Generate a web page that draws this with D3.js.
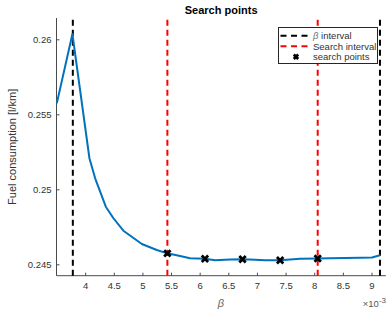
<!DOCTYPE html>
<html>
<head>
<meta charset="utf-8">
<script src="https://cdn.jsdelivr.net/npm/d3@7"></script>
<style>
  html, body { margin: 0; padding: 0; background: #fff; }
  svg { display: block; font-family: "Liberation Sans", Arial, Helvetica, sans-serif; }
</style>
</head>
<body>
<svg id="chart" width="387" height="329"></svg>
<script>
// beta values are in units of 1e-3
const beta = [3.505, 3.778, 4.075, 4.175, 4.361, 4.494, 4.668, 4.990, 5.251, 5.436,
  5.658, 5.832, 6.092, 6.269, 6.531, 6.748, 6.967, 7.141, 7.405, 7.578, 7.752,
  8.061, 8.276, 8.538, 8.800, 9.009, 9.148];
const fuel = [0.25573, 0.26035, 0.25207, 0.25073, 0.24884, 0.24807, 0.24724, 0.24635, 0.24595, 0.24573,
  0.24555, 0.24540, 0.24537, 0.24527, 0.24532, 0.24534, 0.24530, 0.24527, 0.24527, 0.24532, 0.24537,
  0.24539, 0.24540, 0.24542, 0.24543, 0.24545, 0.24560];

const betaInterval = [3.785, 9.148];
const searchInterval = [5.436, 8.061];
const searchBeta = [5.436, 6.092, 6.748, 7.405, 8.061];
const searchFuel = [0.24573, 0.24537, 0.24534, 0.24527, 0.24539];

const xTicks = [4, 4.5, 5, 5.5, 6, 6.5, 7, 7.5, 8, 8.5, 9];
const yTicks = [0.245, 0.25, 0.255, 0.26];
const legendLabels = ["interval", "Search interval", "search points"];

const svg = d3.select("#chart");
const margin = { left: 56.5, right: 1.2, top: 18, bottom: 53.3 };
const W = 387, H = 329;
const axisColor = "#4a4a4a", textColor = "#333";

const x = d3.scaleLinear().domain([3.5, 9.25]).range([margin.left, W - margin.right]);
const y = d3.scaleLinear().domain([0.24424, 0.26142]).range([H - margin.bottom, margin.top]);

// Title
svg.append("text")
  .attr("x", (margin.left + W - margin.right) / 2).attr("y", 14)
  .attr("text-anchor", "middle").attr("font-weight", "bold").attr("font-size", 11)
  .attr("fill", "#000").text("Search points");

// Axes (ticks drawn inward)
const xAxis = d3.axisBottom(x).tickValues(xTicks).tickSize(-3).tickPadding(7)
  .tickFormat(d3.format("~g"));
const yAxis = d3.axisLeft(y).tickValues(yTicks).tickSize(-3).tickPadding(5)
  .tickFormat(d3.format("~g"));

const gx = svg.append("g").attr("transform", `translate(0,${H - margin.bottom})`).call(xAxis);
const gy = svg.append("g").attr("transform", `translate(${margin.left},0)`).call(yAxis);
[gx, gy].forEach(g => {
  g.select(".domain").attr("stroke", axisColor).attr("stroke-width", 1);
  g.selectAll(".tick line").attr("stroke", axisColor).attr("stroke-width", 1);
  g.selectAll(".tick text").attr("fill", textColor).attr("font-size", 9.5)
    .attr("font-family", "Liberation Sans, Arial, sans-serif");
});
gx.select(".domain").attr("d", `M${x.range()[0]},0H${x.range()[1]}`);
gy.select(".domain").attr("d", `M0,${y.range()[0]}V${y.range()[1]}`);

// Axis labels
svg.append("text")
  .attr("transform", `translate(16,${(margin.top + H - margin.bottom) / 2}) rotate(-90)`)
  .attr("text-anchor", "middle").attr("font-size", 11).attr("fill", textColor)
  .text("Fuel consumption [l/km]");
svg.append("text")
  .attr("x", 221).attr("y", 307).attr("text-anchor", "middle")
  .attr("font-size", 11).attr("font-style", "italic").attr("fill", "#666")
  .text("β");
const exp = svg.append("text").attr("x", 386).attr("y", 307).attr("text-anchor", "end")
  .attr("font-size", 9.5).attr("fill", "#555");
exp.append("tspan").text("×10");
exp.append("tspan").attr("dy", -4).attr("font-size", 8).text("-3");

// Interval lines
const vline = (g, v, color) => g.append("line")
  .attr("x1", x(v)).attr("x2", x(v)).attr("y1", y.range()[0]).attr("y2", y.range()[1])
  .attr("stroke", color).attr("stroke-width", 2).attr("stroke-dasharray", "6,4");
const lines = svg.append("g");
betaInterval.forEach(v => vline(lines, v, "#000"));
searchInterval.forEach(v => vline(lines, v, "#ff0000"));

// Fuel consumption curve
svg.append("path")
  .datum(beta.map((b, i) => [b, fuel[i]]))
  .attr("fill", "none").attr("stroke", "#0072BD").attr("stroke-width", 2)
  .attr("stroke-linejoin", "round")
  .attr("d", d3.line().x(d => x(d[0])).y(d => y(d[1])));

// Search point markers
const cross = "M-3.2,-3.2L3.2,3.2M-3.2,3.2L3.2,-3.2";
svg.append("g").selectAll("path")
  .data(searchBeta.map((b, i) => [b, searchFuel[i]]))
  .join("path")
  .attr("transform", d => `translate(${x(d[0])},${y(d[1])})`)
  .attr("d", cross).attr("stroke", "#000").attr("stroke-width", 2.8).attr("fill", "none");

// Legend
const lg = svg.append("g");
lg.append("rect").attr("x", 278.5).attr("y", 27.5).attr("width", 99).attr("height", 36)
  .attr("fill", "#fff").attr("stroke", "#262626").attr("stroke-width", 1);
const rows = [35.7, 46.3, 56.7];
[["#000"], ["#ff0000"]].forEach((c, i) => {
  lg.append("line").attr("x1", 280.5).attr("x2", 311.5).attr("y1", rows[i]).attr("y2", rows[i])
    .attr("stroke", c[0]).attr("stroke-width", 2).attr("stroke-dasharray", "6,4.5");
});
lg.append("path").attr("transform", `translate(296,${rows[2]})`)
  .attr("d", "M-2.2,-2.2L2.2,2.2M-2.2,2.2L2.2,-2.2").attr("stroke", "#000").attr("stroke-width", 2.8);
const t0 = lg.append("text").attr("x", 313).attr("y", rows[0] + 3.3).attr("font-size", 9.5).attr("fill", textColor);
t0.append("tspan").attr("font-style", "italic").attr("fill", "#777").text("β");
t0.append("tspan").text(" " + legendLabels[0]);
lg.append("text").attr("x", 313).attr("y", rows[1] + 3.3).attr("font-size", 9.5).attr("fill", textColor)
  .text(legendLabels[1]);
lg.append("text").attr("x", 313).attr("y", rows[2] + 3.3).attr("font-size", 9.5).attr("fill", textColor)
  .text(legendLabels[2]);
</script>
</body>
</html>
